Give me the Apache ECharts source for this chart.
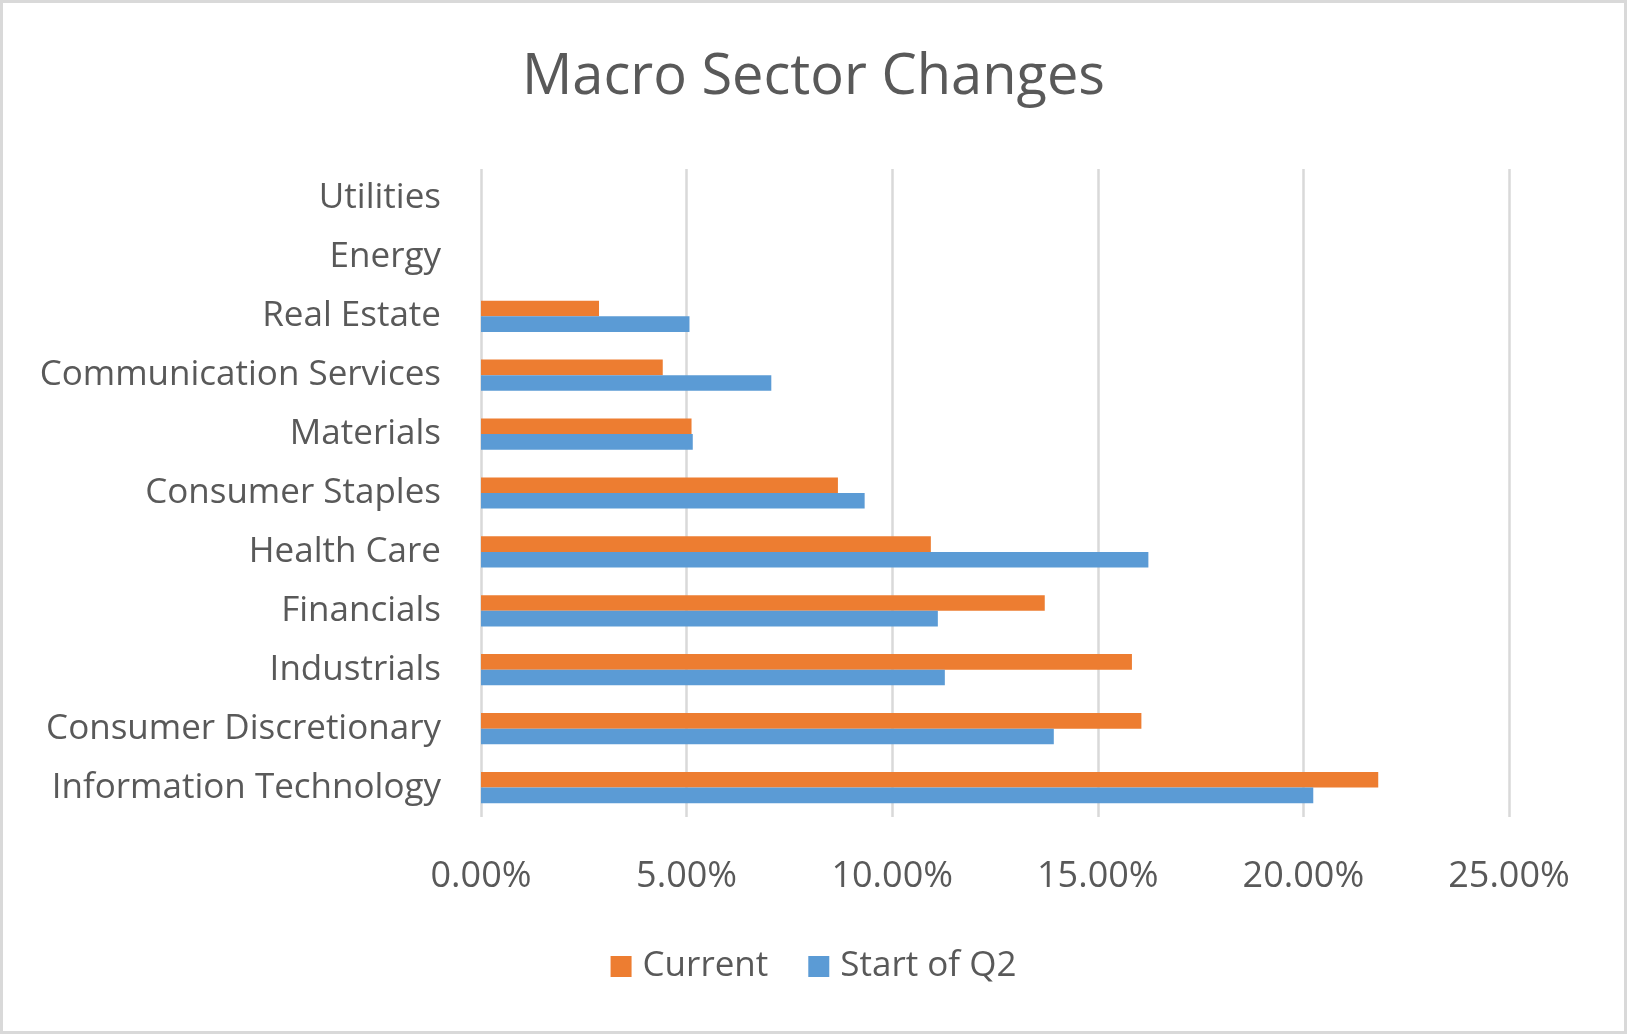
<!DOCTYPE html>
<html>
<head>
<meta charset="utf-8">
<script src="https://cdn.jsdelivr.net/npm/echarts@6/dist/echarts.min.js"></script>
<style>
  html, body { margin: 0; padding: 0; background: #fff; }
  #chart { width: 1627px; height: 1034px; box-sizing: border-box; border: 3px solid #d9d9d9; }
</style>
</head>
<body>
<div id="chart"></div>
<script>
// sectors, bottom to top as the axis draws them
const sectors = ['Information Technology', 'Consumer Discretionary', 'Industrials', 'Financials',
  'Health Care', 'Consumer Staples', 'Materials', 'Communication Services', 'Real Estate', 'Energy', 'Utilities'];
// weights in %
const current = [21.82, 16.06, 15.83, 13.71, 10.94, 8.68, 5.12, 4.42, 2.87, null, null];
const startQ2 = [20.24, 13.93, 11.28, 11.11, 16.23, 9.33, 5.15, 7.06, 5.07, null, null];
const xTicks = [0, 5, 10, 15, 20, 25];

const font = '"Open Sans", "Noto Sans", sans-serif';
const grey = '#595959';

const chart = echarts.init(document.getElementById('chart'));
chart.setOption({
  animation: false,
  title: {
    text: 'Macro Sector Changes',
    left: 'center',
    top: 42,
    textStyle: { color: grey, fontSize: 56, fontWeight: 'normal', fontFamily: font }
  },
  legend: {
    data: ['Current', 'Start of Q2'],
    bottom: 42,
    left: 'center',
    icon: 'rect',
    itemWidth: 21,
    itemHeight: 21,
    itemGap: 40,
    textStyle: { color: grey, fontSize: 35, fontFamily: font, padding: [0, 0, 0, 6] }
  },
  grid: { left: 478, right: 115, top: 166, bottom: 214 },
  xAxis: {
    type: 'value',
    min: xTicks[0],
    max: xTicks[xTicks.length - 1],
    interval: 5,
    axisLine: { show: false },
    axisTick: { show: false },
    splitLine: { lineStyle: { color: '#d9d9d9', width: 2.5 } },
    axisLabel: {
      color: grey, fontSize: 36, fontFamily: font, margin: 42,
      formatter: v => v.toFixed(2) + '%'
    }
  },
  yAxis: {
    type: 'category',
    data: sectors,
    axisLine: { show: false },
    axisTick: { show: false },
    axisLabel: { color: grey, fontSize: 35, fontFamily: font, margin: 40 }
  },
  series: [
    {
      name: 'Current', type: 'bar', data: current,
      barGap: '0%', barCategoryGap: '47%',
      itemStyle: { color: '#ed7d31' }
    },
    {
      name: 'Start of Q2', type: 'bar', data: startQ2,
      barGap: '0%', barCategoryGap: '47%',
      itemStyle: { color: '#5b9bd5' }
    }
  ]
});
</script>
</body>
</html>
